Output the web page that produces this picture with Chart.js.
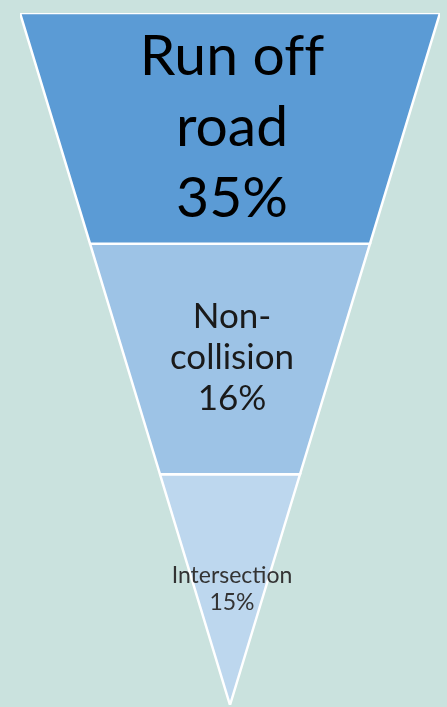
<!DOCTYPE html>
<html>
<head>
<meta charset="utf-8">
<script src="https://cdn.jsdelivr.net/npm/chart.js@4.4.1/dist/chart.umd.min.js"></script>
<style>
    html, body { margin: 0; padding: 0; background: #CAE2DE; }
    #wrap { width: 447px; height: 707px; }
</style>
</head>
<body>
<div id="wrap"><canvas id="funnel"></canvas></div>
<script>
// crash types, top of the funnel first
const categories = ['Run off road', 'Non-collision', 'Intersection'];
// zwnj keeps the "ff" from turning into a ligature
const labelLines = [['Run of\u200Cf', 'road'], ['Non-', 'collision'], ['Intersection']];
const shares = [35, 16, 15];

const fills = ['#5B9BD5', '#9DC3E6', '#BDD7EE'];
const textColors = ['#000000', '#1a1a1a', '#333333'];
const fontSizes = [57, 35, 23];
const lineHeights = [71, 41, 27];

const n = categories.length;

// half width of the funnel at a given level (0 = top, n = tip)
function halfWidth(level) {
    return (n - level) / n;
}

const datasets = categories.map((name, i) => {
    const top = i, bottom = i + 1;
    return {
        label: name,
        data: [
            {x: -halfWidth(top), y: top},
            {x: halfWidth(top), y: top},
            {x: halfWidth(bottom), y: bottom},
            {x: -halfWidth(bottom), y: bottom},
            {x: -halfWidth(top), y: top}
        ],
        showLine: true,
        fill: 'shape',
        backgroundColor: fills[i],
        borderColor: '#ffffff',
        borderWidth: 2.5,
        borderJoinStyle: 'miter',
        pointRadius: 0,
        tension: 0
    };
});

const labelPlugin = {
    id: 'funnelLabels',
    afterDatasetsDraw(chart) {
        const ctx = chart.ctx;
        const xs = chart.scales.x, ys = chart.scales.y;
        ctx.save();
        ctx.textAlign = 'center';
        ctx.textBaseline = 'middle';
        categories.forEach((name, i) => {
            const lines = labelLines[i].concat([shares[i] + '%']);
            const lh = lineHeights[i];
            const cx = xs.getPixelForValue(0) + 2;
            const cy = ys.getPixelForValue(i + 0.5) - 1;
            ctx.font = fontSizes[i] + 'px Lato';
            ctx.fillStyle = textColors[i];
            lines.forEach((t, k) => {
                ctx.fillText(t, cx, cy + (k - (lines.length - 1) / 2) * lh);
            });
        });
        ctx.restore();
    }
};

new Chart(document.getElementById('funnel'), {
    type: 'scatter',
    data: {datasets: datasets},
    options: {
        responsive: true,
        maintainAspectRatio: false,
        animation: false,
        layout: {padding: {left: 20, right: 7, top: 13, bottom: 2}},
        plugins: {
            legend: {display: false},
            tooltip: {enabled: false}
        },
        scales: {
            x: {display: false, min: -1, max: 1},
            y: {display: false, min: 0, max: n, reverse: true}
        }
    },
    plugins: [labelPlugin]
});
</script>
</body>
</html>
